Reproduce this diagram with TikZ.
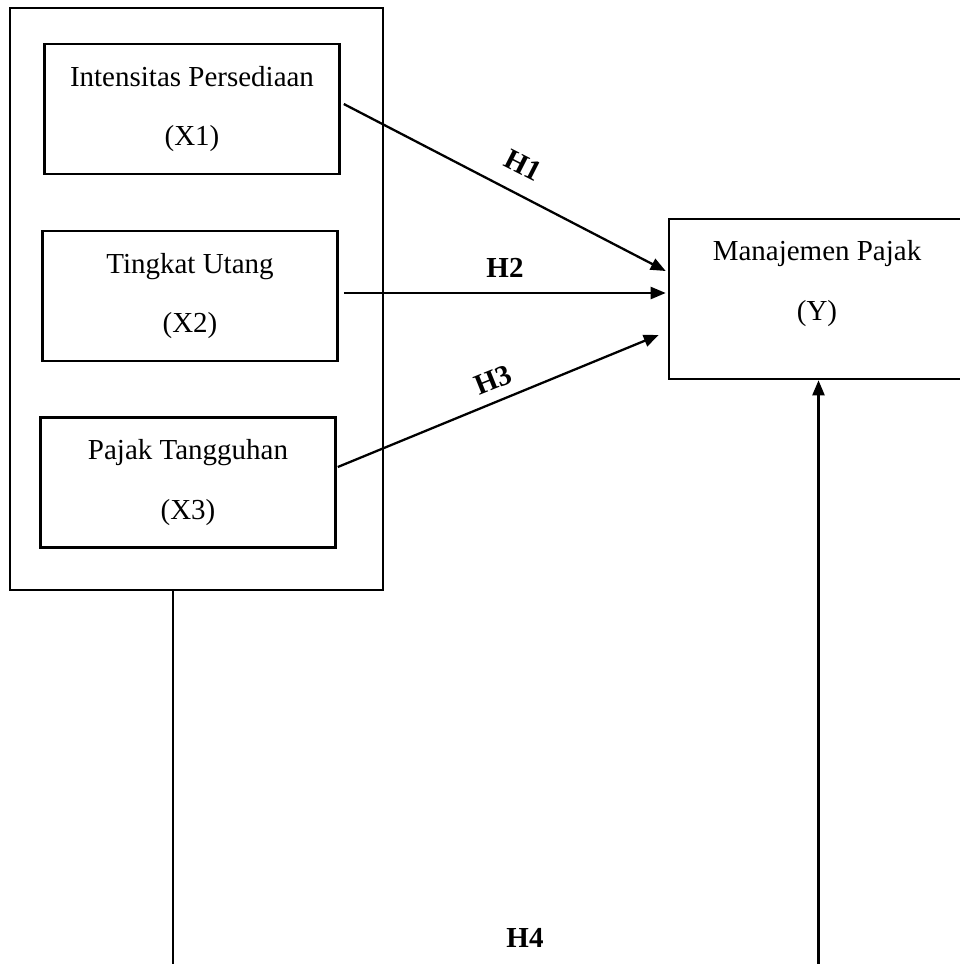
\documentclass[tikz,border=0pt]{standalone}
\usepackage{fontspec}
\setmainfont{Liberation Serif}
\usetikzlibrary{arrows.meta,calc}
\tikzset{
	varbox/.style={draw, line width=1.5pt, minimum width=5.9cm, minimum height=2.6cm, align=center, font=\fontsize{16.5pt}{34pt}\selectfont},
	frame/.style={draw, line width=1.6pt, minimum width=7.46cm, minimum height=11.64cm},
	arr/.style={line width=1.3pt, -{Triangle[length=0.3cm, width=0.24cm]}},
	hyp/.style={font=\fontsize{16.5pt}{20pt}\selectfont\bfseries}
}

\begin{document}
\begin{tikzpicture}[x=0.02cm, y=-0.02cm]
		%%%%% START %%%%%
		\useasboundingbox (0, 0) rectangle (960, 964);
		
		\node[frame] (outer) at (196.5, 299) {};
		
		\node[varbox] (x1) at (192, 109) {Intensitas Persediaan\\(X1)};
		\node[varbox] (x2) at (190, 296) {Tingkat Utang\\(X2)};
		\node[varbox] (x3) at (188, 482.5) {Pajak Tangguhan\\(X3)};
		
		\node[varbox, minimum width=5.98cm, minimum height=3.2cm] (y) at (818.5, 299) {};
		\node[align=center, font=\fontsize{16.5pt}{34pt}\selectfont] (ylabel) at (817, 283.5) {Manajemen Pajak\\(Y)};
		
		\draw[arr] ($(x1.east)+(3, -5)$) -- ($(y.west)+(-2, -28)$);
		\draw[arr] ($(x2.east)+(5, -3)$) -- ($(y.west)+(-2, -6)$);
		\draw[arr] ($(x3.east)+(1, -15.5)$) -- ($(y.west)+(-9, 36)$);
		\draw[arr] ($(outer.south)+(-23.5, 0)$) -- ++(0, 374) -| (y.south);
		
		\node[hyp, rotate=-27] (h1) at (523, 165) {H1};
		\node[hyp] (h2) at (505, 268) {H2};
		\node[hyp, rotate=22] (h3) at (493, 380) {H3};
		\node[hyp] (h4) at (525, 938) {H4};
		%%%%% END %%%%%
	\end{tikzpicture}
\end{document}
